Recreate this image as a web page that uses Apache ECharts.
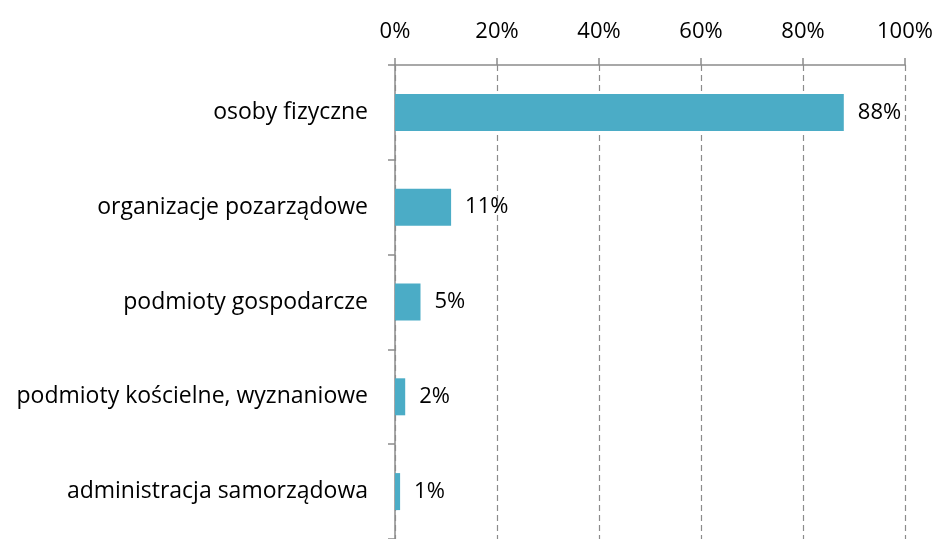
<!DOCTYPE html>
<html>
<head>
<meta charset="utf-8">
<script src="https://cdn.jsdelivr.net/npm/echarts@6/dist/echarts.min.js"></script>
<style>
    html, body { margin: 0; padding: 0; background: #fff; }
    #chart { width: 937px; height: 539px; }
</style>
</head>
<body>
<div id="chart"></div>
<script>
// kategorie od góry do dołu
const categories = [
    "osoby fizyczne",
    "organizacje pozarządowe",
    "podmioty gospodarcze",
    "podmioty kościelne, wyznaniowe",
    "administracja samorządowa"
]
const values = [88, 11, 5, 2, 1] // udział w %
const tickLabels = ["0%", "20%", "40%", "60%", "80%", "100%"]

const axisColor = "#8c8c8c"
const font = "Open Sans"

let myChart = echarts.init(document.getElementById("chart"))

let option = {
    backgroundColor: "#fff",
    animation: false,
    grid: {
        left: 395,
        right: 32,
        top: 65,
        height: 480,
    },
    xAxis: {
        type: "value",
        position: "top",
        min: 0,
        max: 100,
        interval: 20,
        axisLine: { show: true, lineStyle: { color: axisColor, width: 1.5 } },
        axisTick: { show: true, inside: false, length: 7, lineStyle: { color: axisColor, width: 1.5 } },
        splitLine: { show: true, lineStyle: { color: axisColor, type: [6, 4], width: 1.2 } },
        axisLabel: {
            margin: 22,
            color: "#000",
            fontFamily: font,
            fontSize: 22,
            formatter: (v) => tickLabels[Math.round(v / 20)],
        },
    },
    yAxis: {
        type: "category",
        inverse: true,
        data: categories,
        axisLine: { show: true, lineStyle: { color: axisColor, width: 1.5 } },
        axisTick: { show: true, length: 7, lineStyle: { color: axisColor, width: 1.5 } },
        axisLabel: {
            margin: 27,
            color: "#000",
            fontFamily: font,
            fontSize: 23,
        },
    },
    series: [
        {
            type: "bar",
            data: values,
            barWidth: 37,
            itemStyle: { color: "#4bacc6" },
            label: {
                show: true,
                position: "right",
                distance: 14,
                color: "#000",
                fontFamily: font,
                fontSize: 22,
                formatter: "{c}%",
            },
        },
    ],
}

myChart.setOption(option)
</script>
</body>
</html>
